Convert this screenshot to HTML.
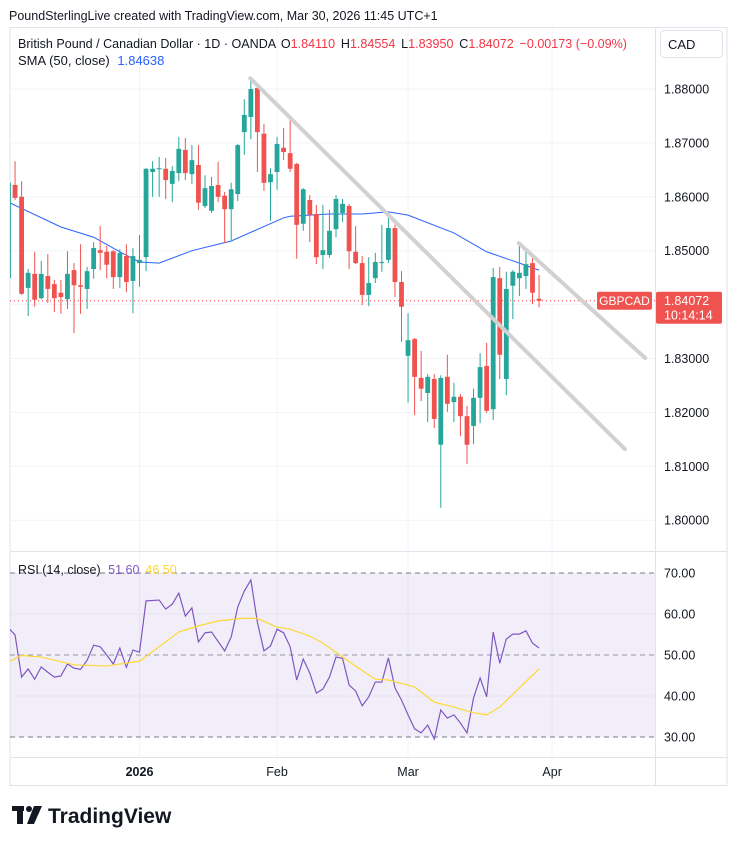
<!DOCTYPE html>
<html><head><meta charset="utf-8">
<style>
html,body{margin:0;padding:0;background:#fff;}
body{width:737px;height:845px;overflow:hidden;font-family:"Liberation Sans",sans-serif;}
svg text{font-family:"Liberation Sans",sans-serif;}
</style></head>
<body>
<svg id="chart" width="737" height="845" viewBox="0 0 737 845" xmlns="http://www.w3.org/2000/svg">
<text x="9" y="20" font-size="12.5" fill="#131722">PoundSterlingLive created with TradingView.com, Mar 30, 2026 11:45 UTC+1</text>
<rect x="10" y="27.5" width="717" height="758" fill="none" stroke="#e0e3eb"/>
<defs>
<clipPath id="mainClip"><rect x="10" y="28" width="645" height="523"/></clipPath>
<clipPath id="rsiClip"><rect x="10" y="552" width="645" height="205"/></clipPath>
</defs>
<g id="grid"></g>
<g id="rsiPane" clip-path="url(#rsiClip)"></g>
<g id="main" clip-path="url(#mainClip)"></g>
<g id="axes"></g>
<line x1="10" y1="551.5" x2="727" y2="551.5" stroke="#e0e3eb"/>
<line x1="10" y1="757.5" x2="727" y2="757.5" stroke="#e0e3eb"/>
<line x1="655.5" y1="28" x2="655.5" y2="785" stroke="#e0e3eb"/>
<text x="18" y="48" font-size="13" fill="#131722" textLength="609" lengthAdjust="spacingAndGlyphs">British Pound / Canadian Dollar · 1D · OANDA <tspan dx="2">O</tspan><tspan fill="#f23645">1.84110</tspan><tspan dx="6">H</tspan><tspan fill="#f23645">1.84554</tspan><tspan dx="6">L</tspan><tspan fill="#f23645">1.83950</tspan><tspan dx="6">C</tspan><tspan fill="#f23645">1.84072</tspan><tspan dx="6" fill="#f23645">−0.00173 (−0.09%)</tspan></text>
<text x="18" y="65" font-size="13" fill="#131722">SMA (50, close) <tspan dx="4" fill="#2962ff">1.84638</tspan></text>
<text x="18" y="574" font-size="12.5" fill="#131722">RSI (14, close) <tspan dx="4" fill="#7e57c2">51.60</tspan><tspan dx="6" fill="#fdd835">46.50</tspan></text>
<rect x="660.5" y="30.5" width="62" height="27" rx="4" fill="#fff" stroke="#e0e3eb"/>
<text x="668" y="49" font-size="13" fill="#131722">CAD</text>
<g>
<rect x="12" y="806" width="12" height="5" fill="#131722"/>
<rect x="17" y="806" width="6" height="18" fill="#131722"/>
<circle cx="29" cy="809" r="3" fill="#131722"/>
<polygon points="34,806 42,806 34,824 27,824" fill="#131722"/>
<text x="48" y="823" font-size="21" font-weight="bold" fill="#131722">TradingView</text>
</g>
</svg>
<script>
const opens=[1.8449,1.8622,1.8600,1.8431,1.8457,1.8412,1.8453,1.8438,1.8422,1.8410,1.8464,1.8436,1.8429,1.8466,1.8501,1.8498,1.8499,1.8451,1.8490,1.8444,1.8477,1.8488,1.8646,1.8652,1.8652,1.8624,1.8644,1.8687,1.8642,1.8659,1.8583,1.8574,1.8622,1.8602,1.8577,1.8605,1.8720,1.8748,1.8802,1.8717,1.8627,1.8646,1.8691,1.8681,1.8661,1.8550,1.8594,1.8568,1.8492,1.8492,1.8540,1.8570,1.8583,1.8498,1.8477,1.8418,1.8449,1.8477,1.8483,1.8542,1.8442,1.8305,1.8336,1.8264,1.8236,1.8262,1.8140,1.8266,1.8219,1.8229,1.8193,1.8175,1.8227,1.8286,1.8206,1.8449,1.8262,1.8435,1.8449,1.8453,1.8477,1.8411];
const highs=[1.8629,1.8666,1.8629,1.8466,1.8498,1.8481,1.8494,1.8446,1.8446,1.8499,1.8477,1.8512,1.8470,1.8516,1.8546,1.8509,1.8501,1.8503,1.8512,1.8505,1.8529,1.8653,1.8666,1.8674,1.8672,1.8657,1.8711,1.8709,1.8696,1.8696,1.8640,1.8637,1.8665,1.8609,1.8626,1.8698,1.8781,1.8817,1.8802,1.8735,1.8653,1.8711,1.8728,1.8742,1.8663,1.8616,1.8603,1.8585,1.8585,1.8576,1.8603,1.8596,1.8587,1.8546,1.8490,1.8488,1.8496,1.8548,1.8561,1.8548,1.8462,1.8384,1.8338,1.8314,1.8271,1.8271,1.8269,1.8307,1.8255,1.8234,1.8212,1.8244,1.8310,1.8329,1.8468,1.8470,1.8461,1.8464,1.8516,1.8501,1.8488,1.8455];
const lows=[1.8446,1.8594,1.8418,1.8379,1.8396,1.8410,1.8403,1.8386,1.8383,1.8392,1.8347,1.8383,1.8392,1.8448,1.8464,1.8449,1.8429,1.8431,1.8423,1.8384,1.8433,1.8462,1.8600,1.8600,1.8596,1.8590,1.8629,1.8631,1.8624,1.8576,1.8579,1.8570,1.8590,1.8514,1.8520,1.8592,1.8678,1.8707,1.8646,1.8611,1.8555,1.8613,1.8668,1.8646,1.8485,1.8537,1.8516,1.8475,1.8466,1.8487,1.8525,1.8553,1.8466,1.8475,1.8399,1.8397,1.8440,1.8461,1.8477,1.8414,1.8331,1.8218,1.8195,1.8221,1.8182,1.8171,1.8023,1.8201,1.8182,1.8156,1.8104,1.8141,1.8180,1.8199,1.8186,1.8262,1.8232,1.8373,1.8416,1.8429,1.8401,1.8395];
const closes=[1.8626,1.8598,1.8420,1.8459,1.8409,1.8457,1.8429,1.8412,1.8414,1.8457,1.8436,1.8433,1.8462,1.8505,1.8496,1.8474,1.8451,1.8496,1.8442,1.8490,1.8483,1.8652,1.8652,1.8653,1.8631,1.8648,1.8689,1.8644,1.8668,1.8589,1.8616,1.8620,1.8600,1.8577,1.8614,1.8696,1.8752,1.8800,1.8720,1.8626,1.8642,1.8698,1.8683,1.8652,1.8548,1.8614,1.8566,1.8488,1.8501,1.8537,1.8596,1.8587,1.8499,1.8477,1.8418,1.8440,1.8479,1.8479,1.8542,1.8442,1.8396,1.8334,1.8266,1.8244,1.8266,1.8188,1.8264,1.8216,1.8229,1.8193,1.8140,1.8227,1.8284,1.8203,1.8451,1.8307,1.8429,1.8461,1.8459,1.8475,1.8422,1.8407];
const smaIdx=[0,8,13,17,20,23,28,34,42,43,49,54,58,61,68,73,78,81];
const smaVal=[1.8590,1.8544,1.8525,1.8498,1.8479,1.8477,1.8500,1.8518,1.8561,1.8564,1.8568,1.8568,1.8572,1.8566,1.8533,1.8498,1.8477,1.8464];
const rsiVal=[56.6,54.9,44.6,46.6,44.1,47.1,45.8,44.6,44.9,47.8,46.8,46.5,48.7,52.4,52.0,50.0,47.8,51.7,47.0,51.2,50.7,63.2,63.3,63.4,61.2,62.4,65.1,59.5,61.5,53.2,55.4,55.6,53.3,51.0,54.4,61.7,65.6,68.3,58.0,51.0,52.2,56.3,55.4,52.0,43.9,49.0,45.6,40.7,41.7,44.6,49.5,49.2,42.7,41.2,37.6,39.8,43.4,43.4,49.3,42.0,39.0,35.4,32.0,31.0,32.9,29.5,36.6,34.6,35.4,33.4,31.0,39.5,44.4,39.8,55.6,48.0,53.9,55.1,55.1,55.9,52.9,51.7];
const rsiMaIdx=[0,2,5,10,15,20,23,26,29,32,36,38,41,43,46,48,51,53,56,58,62,65,68,71,73,75,78,81];
const rsiMaVal=[48.3,49.9,49.5,47.6,47.3,48.5,52.0,55.6,57.1,58.3,59.0,58.9,56.8,56.3,54.6,52.9,49.5,47.3,44.1,43.9,42.2,38.5,37.3,35.9,35.4,37.3,42.0,46.6];
const priceTicks=[1.80,1.81,1.82,1.83,1.84,1.85,1.86,1.87,1.88];
const rsiTicks=[30,40,50,60,70];
const timeIdx=[20,41,61,83];
const timeLabels=["2026","Feb","Mar","Apr"];
const trend1=[[36.9,1.8820],[94.1,1.8132]];
const trend2=[[77.9,1.8514],[97.2,1.8301]];
const lastPrice=1.84072;

const NS="http://www.w3.org/2000/svg";
const xOf=i=>8.5+6.55*i;
const yP=p=>89+(1.88-p)*5390;
const yR=v=>573+(70-v)*4.1;
function mk(tag,attrs,parent){const e=document.createElementNS(NS,tag);for(const k in attrs)e.setAttribute(k,attrs[k]);parent.appendChild(e);return e;}
const grid=document.getElementById('grid'),main=document.getElementById('main'),rsiP=document.getElementById('rsiPane'),axes=document.getElementById('axes');

priceTicks.forEach(p=>{
  const l=mk('line',{x1:10,x2:655,y1:yP(p),y2:yP(p),stroke:'#f0f3fa'},grid);
  
  
  const t=mk('text',{x:664,y:yP(p)+4.5,'font-size':12.5,fill:'#131722'},axes);
  
  
  t.textContent=p.toFixed(5);
});
timeIdx.forEach((i,k)=>{
  const l=mk('line',{x1:xOf(i),x2:xOf(i),y1:28,y2:757,stroke:'#f0f3fa'},grid);
  
  
  const t=mk('text',{x:xOf(i),y:776,'font-size':12.5,fill:'#131722','text-anchor':'middle','font-weight':k===0?'bold':'normal'},axes);
  
  
  t.textContent=timeLabels[k];
});
const band=mk('rect',{x:10,y:yR(70),width:645,height:yR(30)-yR(70),fill:'#7e57c2','fill-opacity':0.1},rsiP);


rsiTicks.forEach(v=>{
  const dashed=(v===30||v===50||v===70);
  const l=mk('line',{x1:10,x2:655,y1:yR(v),y2:yR(v),stroke:dashed?(v===50?'#9598a1':'#787b86'):'#e6e3ee','stroke-dasharray':dashed?'5,4':'none'},rsiP);
  
  
  const t=mk('text',{x:664,y:yR(v)+4.5,'font-size':12.5,fill:'#131722'},axes);
  
  
  t.textContent=v.toFixed(2);
});
const rsiLine=mk('polyline',{points:rsiVal.map((v,i)=>xOf(i)+','+yR(v)).join(' '),fill:'none',stroke:'#7e57c2','stroke-width':1.2},rsiP);


const maLine=mk('polyline',{points:rsiMaIdx.map((i,k)=>xOf(i)+','+yR(rsiMaVal[k])).join(' '),fill:'none',stroke:'#fdd835','stroke-width':1.2},rsiP);



const lp=mk('line',{x1:10,x2:655,y1:yP(lastPrice),y2:yP(lastPrice),stroke:'#f23645','stroke-dasharray':'1,3'},main);


const sma=mk('polyline',{points:smaIdx.map((i,k)=>xOf(i)+','+yP(smaVal[k])).join(' '),fill:'none',stroke:'#2962ff','stroke-width':1},main);


opens.forEach((o,i)=>{
  const c=closes[i],up=c>=o,col=up?'#26a69a':'#ef5350',x=xOf(i);
  const w=mk('line',{x1:x,x2:x,y1:yP(highs[i]),y2:yP(lows[i]),stroke:col,'stroke-width':1},main);
  
  
  const top=yP(Math.max(o,c)),bot=yP(Math.min(o,c));
  const b=mk('rect',{x:x-2.4,y:top,width:4.8,height:Math.max(1,bot-top),fill:col},main);
  
  
});
[trend1,trend2].forEach(t=>{
  const l=mk('line',{x1:xOf(t[0][0]),y1:yP(t[0][1]),x2:xOf(t[1][0]),y2:yP(t[1][1]),stroke:'#d1d1d1','stroke-width':4,'stroke-linecap':'round'},main);
  
  
});
const ly=yP(lastPrice);
const sb=mk('rect',{x:597,y:ly-9,width:55,height:18,rx:2,fill:'#ef5350'},axes);


const st=mk('text',{x:624.5,y:ly+4.5,'font-size':12,fill:'#fff','text-anchor':'middle'},axes);


st.textContent='GBPCAD';
const pb=mk('rect',{x:656,y:ly-9,width:66,height:32,rx:2,fill:'#ef5350'},axes);


const pt=mk('text',{x:664,y:ly+4.5,'font-size':12.5,fill:'#fff'},axes);


pt.textContent=lastPrice.toFixed(5);
const ct=mk('text',{x:664,y:ly+19,'font-size':12.5,fill:'#fff'},axes);


ct.textContent='10:14:14';
</script>
</body></html>
